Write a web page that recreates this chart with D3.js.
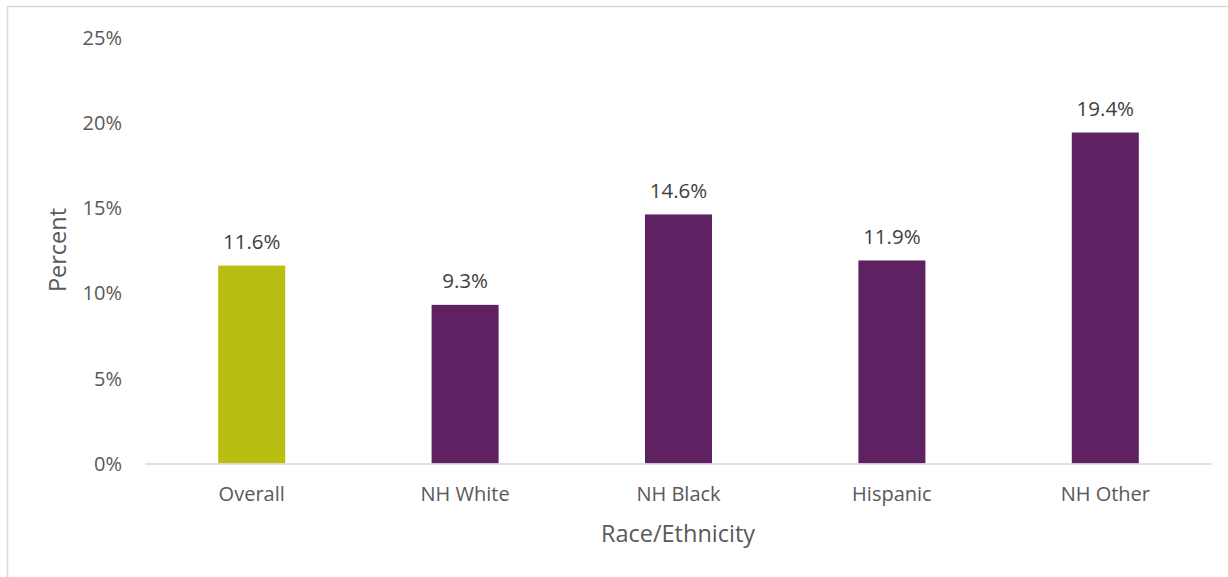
<!DOCTYPE html>
<html><head><meta charset="utf-8">
<script src="https://cdn.jsdelivr.net/npm/d3@7"></script>
<style>body{margin:0;background:#fff}svg{display:block}text{font-family:"Open Sans",sans-serif}</style>
</head><body><svg id="c" width="1228" height="577"></svg>
<script>
const categories = ["Overall","NH White","NH Black","Hispanic","NH Other"];
const values = [11.6, 9.3, 14.6, 11.9, 19.4];
const barColors = ["#B8BF12","#5E2162","#5E2162","#5E2162","#5E2162"];
const yTicks = [0,5,10,15,20,25];

const svg = d3.select("#c");
svg.append("rect").attr("x",7.5).attr("y",6.5).attr("width",1240).attr("height",600)
  .attr("fill","#fff").attr("stroke","#d9d9d9").attr("stroke-width",1.5);

const x = d3.scaleBand().domain(categories).range([145,1212]).paddingInner(0.686).paddingOuter(0.343);
const y = d3.scaleLinear().domain([0,25]).range([463.5,37]);

svg.selectAll("rect.bar").data(values).join("rect").attr("class","bar")
  .attr("x",(d,i)=>x(categories[i])).attr("width",x.bandwidth())
  .attr("y",d=>y(d)).attr("height",d=>y(0)-y(d)).attr("fill",(d,i)=>barColors[i]);

const yAxis = d3.axisLeft(y).tickValues(yTicks).tickFormat(d=>d+"%").tickSize(0).tickPadding(0);
const ya = svg.append("g").attr("transform","translate(122,0)").call(yAxis);
ya.select(".domain").remove();
ya.selectAll("text").attr("fill","#595959").style("font-size","20px").attr("dy","0.35em");

const xAxis = d3.axisBottom(x).tickSize(0).tickPadding(0);
const xa = svg.append("g").attr("transform",`translate(0,${y(0)})`).call(xAxis);
xa.select(".domain").attr("stroke","#d9d9d9").attr("stroke-width",1.5);
xa.selectAll("text").attr("fill","#595959").style("font-size","20px").attr("y",30).attr("dy","0.35em");

svg.selectAll("text.lbl").data(values).join("text").attr("class","lbl")
  .attr("x",(d,i)=>x(categories[i])+x.bandwidth()/2).attr("y",d=>y(d)-24).attr("dy","0.35em")
  .attr("text-anchor","middle").attr("fill","#404040").style("font-size","20.5px")
  .text(d=>d.toFixed(1)+"%");

svg.append("text").attr("x",678).attr("y",534).attr("dy","0.35em").attr("text-anchor","middle")
  .attr("fill","#595959").style("font-size","23.5px").text("Race/Ethnicity");
svg.append("text").attr("transform","translate(58,250) rotate(-90)").attr("dy","0.35em").attr("text-anchor","middle")
  .attr("fill","#595959").style("font-size","23.5px").text("Percent");
</script></body></html>
